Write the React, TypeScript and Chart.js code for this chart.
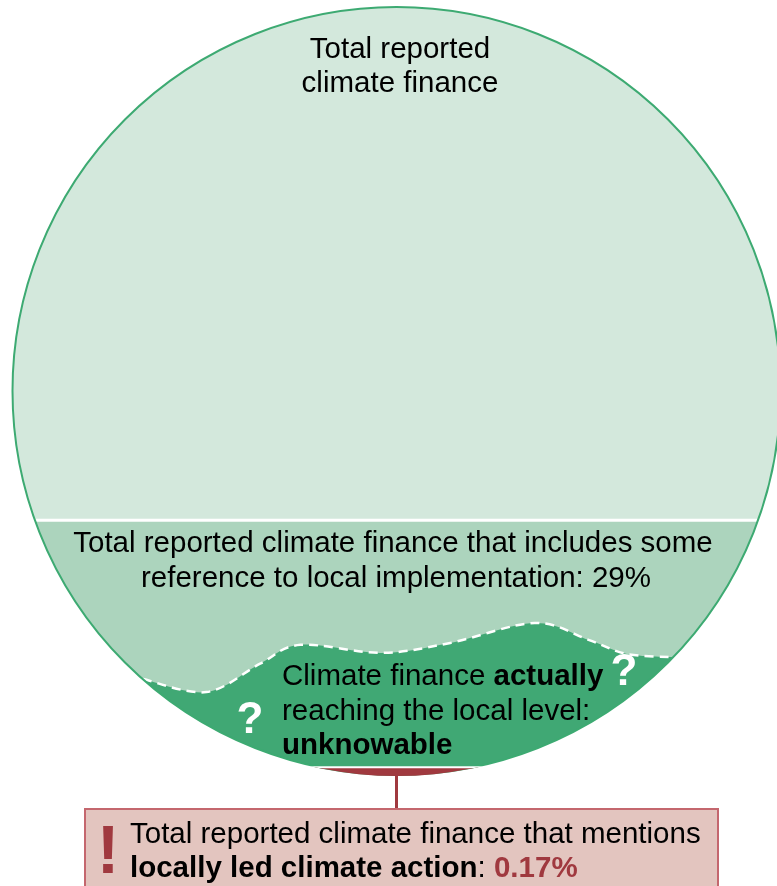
import React, { useEffect, useRef } from 'react';
import { Chart, registerables } from 'chart.js';

Chart.register(...registerables);

// ---------- data ----------
const layerNames = [
  'Total reported climate finance',
  'Includes some reference to local implementation',
  'Actually reaching the local level',
  'Mentions locally led climate action',
];
// share of total reported climate finance, in percent (NaN = unknowable)
const layerShares = [100, 29, NaN, 0.17];
const shareLabels = ['', '29%', 'unknowable', '0.17%'];

// text lines
const topLines = ['Total reported', 'climate finance'];
const midLines = [
  'Total reported climate finance that includes some',
  'reference to local implementation: ' + shareLabels[1],
];
const boxLine1 = 'Total reported climate finance that mentions';
const boxLine2Bold = 'locally led climate action';

// decorative "unknowable" boundary, in units of the circle radius
const waveX = [-0.66, -0.495, -0.355, -0.25, -0.04, 0.14, 0.36, 0.5, 0.6, 0.72];
const waveY = [-0.75, -0.784, -0.71, -0.661, -0.682, -0.656, -0.604, -0.648, -0.685, -0.693];

// ---------- layout / style ----------
const W = 777;
const H = 886;
const CX = 396.5;
const CY = 391;
const R = 384;
const FONT = '"Liberation Sans", Arial, Helvetica, sans-serif';
const FS = 29.5;
const COLORS = {
  top: '#d3e8dc',
  mid: '#acd4bd',
  dark: '#40a874',
  red: '#a0393f',
  border: '#3daa72',
  boxFill: '#e3c5bf',
  boxBorder: '#c4676e',
};

// chord height c (unit circle) such that area below y=c is the given share
function chordLevel(sharePct: number): number {
  const f = sharePct / 100;
  const area = (c: number) => (Math.acos(-c) + c * Math.sqrt(1 - c * c)) / Math.PI;
  let lo = -1;
  let hi = 1;
  for (let i = 0; i < 60; i++) {
    const m = (lo + hi) / 2;
    if (area(m) < f) lo = m;
    else hi = m;
  }
  return (lo + hi) / 2;
}

type Run = { t: string; b?: boolean; c?: string };

function drawRuns(ctx: CanvasRenderingContext2D, runs: Run[], x: number, y: number, align: 'left' | 'center', size = FS) {
  const font = (b?: boolean) => `${b ? 'bold ' : ''}${size}px ${FONT}`;
  const widths = runs.map((r) => {
    ctx.font = font(r.b);
    return ctx.measureText(r.t).width;
  });
  const total = widths.reduce((a, b) => a + b, 0);
  let cx = align === 'center' ? x - total / 2 : x;
  ctx.textAlign = 'left';
  ctx.textBaseline = 'alphabetic';
  runs.forEach((r, i) => {
    ctx.font = font(r.b);
    ctx.fillStyle = r.c || '#000';
    ctx.fillText(r.t, cx, y);
    cx += widths[i];
  });
}

function smoothPath(ctx: CanvasRenderingContext2D, pts: number[][], moveFirst: boolean) {
  if (moveFirst) ctx.moveTo(pts[0][0], pts[0][1]);
  else ctx.lineTo(pts[0][0], pts[0][1]);
  for (let i = 0; i < pts.length - 1; i++) {
    const p0 = pts[i - 1] || pts[i];
    const p1 = pts[i];
    const p2 = pts[i + 1];
    const p3 = pts[i + 2] || p2;
    ctx.bezierCurveTo(
      p1[0] + (p2[0] - p0[0]) / 6,
      p1[1] + (p2[1] - p0[1]) / 6,
      p2[0] - (p3[0] - p1[0]) / 6,
      p2[1] - (p3[1] - p1[1]) / 6,
      p2[0],
      p2[1]
    );
  }
}

const nestedPlugin = {
  id: 'nestedCircle',
  afterDraw(chart: any) {
    const ctx: CanvasRenderingContext2D = chart.ctx;
    const xs = chart.scales.x;
    const ys = chart.scales.y;
    const px = (v: number) => xs.getPixelForValue(v);
    const py = (v: number) => ys.getPixelForValue(v);
    const cx = px(0);
    const cy = py(0);
    const r = px(1) - px(0);
    const yMid = py(chordLevel(layerShares[1]));
    const yRed = py(chordLevel(layerShares[3]));
    const pts = waveX.map((x, i) => [px(x), py(waveY[i])]);
    const last = pts[pts.length - 1];

    ctx.save();
    // whole circle
    ctx.beginPath();
    ctx.arc(cx, cy, r, 0, Math.PI * 2);
    ctx.fillStyle = COLORS.top;
    ctx.fill();

    ctx.save();
    ctx.beginPath();
    ctx.arc(cx, cy, r, 0, Math.PI * 2);
    ctx.clip();
    // 29% band
    ctx.fillStyle = COLORS.mid;
    ctx.fillRect(0, yMid, W, H);
    ctx.strokeStyle = '#ffffff';
    ctx.lineWidth = 3;
    ctx.beginPath();
    ctx.moveTo(0, yMid);
    ctx.lineTo(W, yMid);
    ctx.stroke();
    // unknowable region
    ctx.beginPath();
    ctx.moveTo(pts[0][0] - 60, pts[0][1]);
    smoothPath(ctx, pts, false);
    ctx.lineTo(last[0] + 60, last[1]);
    ctx.lineTo(last[0] + 60, H + 60);
    ctx.lineTo(pts[0][0] - 60, H + 60);
    ctx.closePath();
    ctx.fillStyle = COLORS.dark;
    ctx.fill();
    ctx.restore();

    // dashed boundary
    ctx.beginPath();
    smoothPath(ctx, pts, true);
    ctx.strokeStyle = '#ffffff';
    ctx.lineWidth = 2.5;
    ctx.setLineDash([9, 6]);
    ctx.stroke();
    ctx.setLineDash([]);

    // outline
    ctx.beginPath();
    ctx.arc(cx, cy, r, 0, Math.PI * 2);
    ctx.strokeStyle = COLORS.border;
    ctx.lineWidth = 2;
    ctx.stroke();

    // 0.17% sliver
    ctx.save();
    ctx.beginPath();
    ctx.arc(cx, cy, r + 1, 0, Math.PI * 2);
    ctx.clip();
    ctx.fillStyle = COLORS.red;
    ctx.fillRect(0, yRed, W, H);
    ctx.strokeStyle = '#ffffff';
    ctx.lineWidth = 2;
    ctx.beginPath();
    ctx.moveTo(0, yRed);
    ctx.lineTo(W, yRed);
    ctx.stroke();
    ctx.restore();

    // connector and callout box
    const bottom = cy + r;
    const boxTop = 809;
    ctx.strokeStyle = COLORS.red;
    ctx.lineWidth = 3;
    ctx.beginPath();
    ctx.moveTo(cx, bottom);
    ctx.lineTo(cx, boxTop);
    ctx.stroke();
    ctx.fillStyle = COLORS.boxFill;
    ctx.fillRect(85, boxTop, 633, 120);
    ctx.strokeStyle = COLORS.boxBorder;
    ctx.lineWidth = 2;
    ctx.strokeRect(85, boxTop, 633, 120);

    // labels
    const top = cy - r;
    drawRuns(ctx, [{ t: topLines[0] }], 400, top + 51, 'center');
    drawRuns(ctx, [{ t: topLines[1] }], 400, top + 85, 'center');
    drawRuns(ctx, [{ t: midLines[0] }], 393, yMid + 32, 'center');
    drawRuns(ctx, [{ t: midLines[1] }], 396, yMid + 67, 'center');

    drawRuns(ctx, [{ t: 'Climate finance ' }, { t: 'actually', b: true }], 282, 685, 'left');
    drawRuns(ctx, [{ t: 'reaching the local level:' }], 282, 720, 'left');
    drawRuns(ctx, [{ t: shareLabels[2], b: true }], 282, 754, 'left');

    ctx.font = `bold 44px ${FONT}`;
    ctx.fillStyle = '#ffffff';
    ctx.textAlign = 'center';
    ctx.fillText('?', 624, 685);
    ctx.fillText('?', 250, 733);

    ctx.font = `bold 68px ${FONT}`;
    ctx.fillStyle = COLORS.red;
    ctx.fillText('!', 108, 873);

    drawRuns(ctx, [{ t: boxLine1 }], 130, 843, 'left');
    drawRuns(
      ctx,
      [{ t: boxLine2Bold, b: true }, { t: ': ' }, { t: shareLabels[3], b: true, c: COLORS.red }],
      130,
      877,
      'left'
    );
    ctx.restore();
  },
};

export default function App() {
  const ref = useRef<HTMLCanvasElement | null>(null);
  useEffect(() => {
    if (!ref.current) return;
    const chart = new Chart(ref.current, {
      type: 'scatter',
      data: {
        datasets: [
          {
            label: layerNames[0],
            data: [],
            pointRadius: 0,
          },
        ],
      },
      options: {
        responsive: false,
        animation: false,
        events: [],
        layout: { padding: 0 },
        plugins: { legend: { display: false }, tooltip: { enabled: false } },
        scales: {
          x: { type: 'linear', display: false, min: -CX / R, max: (W - CX) / R },
          y: { type: 'linear', display: false, min: -(H - CY) / R, max: CY / R },
        },
      },
      plugins: [nestedPlugin],
    });
    return () => chart.destroy();
  }, []);
  return (
    <div style={{ position: 'absolute', left: 0, top: 0, width: W, height: H, background: '#fff' }}>
      <canvas ref={ref} width={W} height={H} style={{ width: W, height: H, display: 'block' }} />
    </div>
  );
}
